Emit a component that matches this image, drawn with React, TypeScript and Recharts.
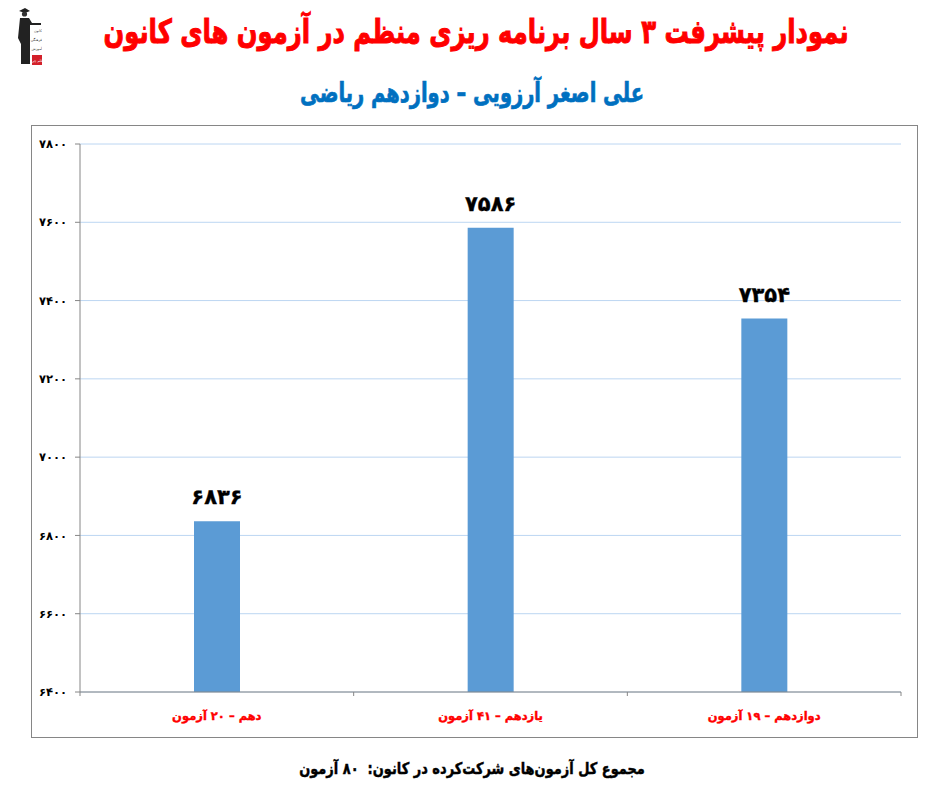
import { BarChart, Bar, CartesianGrid, LabelList, XAxis, YAxis } from 'recharts';

const categories = ['دهم – ۲۰ آزمون', 'یازدهم – ۴۱ آزمون', 'دوازدهم – ۱۹ آزمون'];
const scores = [6836, 7586, 7354];
const yTicks = [6400, 6600, 6800, 7000, 7200, 7400, 7600, 7800];
const logoLines = ['کانون', 'فرهنگی', 'آموزش'];

const titleText = 'نمودار پیشرفت ۳ سال برنامه ریزی منظم در آزمون های کانون';
const subtitleText = 'علی اصغر آرزویی – دوازدهم ریاضی';
const footerText = 'مجموع کل آزمون‌های شرکت‌کرده در کانون:  ۸۰ آزمون';

const FONT = '"DejaVu Sans", sans-serif';
const PLOT_WIDTH = 821;
const data = categories.map((name, i) => ({ name, score: scores[i] }));

const toPersian = (v: number | string) =>
  String(v).replace(/\d/g, (d) => '۰۱۲۳۴۵۶۷۸۹'[Number(d)]);

interface HeadingProps {
  top: number;
  center: number;
  size: number;
  squeeze: number;
  stroke: number;
  color: string;
  children: string;
}

// DejaVu is wider than the reference's Titr-like face, so squeeze it and thicken the strokes.
function Heading({ top, center, size, squeeze, stroke, color, children }: HeadingProps) {
  return (
    <div
      dir="rtl"
      style={{
        position: 'absolute',
        left: center - 600,
        width: 1200,
        top,
        textAlign: 'center',
        fontFamily: FONT,
        fontWeight: 700,
        fontSize: size,
        lineHeight: 1,
        whiteSpace: 'pre',
        color,
        WebkitTextStroke: `${stroke}px ${color}`,
        transform: `scaleX(${squeeze})`,
      }}
    >
      {children}
    </div>
  );
}

function Logo() {
  return (
    <svg width={24} height={58} style={{ position: 'absolute', left: 18, top: 8 }}>
      <path d="M1 3 L7 0 L12 3 L7 5 Z" fill="#222" />
      <circle cx={6.5} cy={6} r={2.6} fill="#333" />
      <path d="M2 10 L11 10 L14 15 L23 15 L23 17 L12 17 L12 56 L3 56 L3 36 L0 30 Z" fill="#222" />
      {logoLines.map((line, i) => (
        <text key={line} x={24} y={24 + i * 9} textAnchor="start" direction="rtl" fontSize={3.5} fontFamily={FONT} fill="#333">
          {line}
        </text>
      ))}
      <rect x={14} y={47} width={10} height={10} fill="#d3202a" />
      <text x={19} y={54} textAnchor="middle" direction="rtl" fontSize={3.5} fontFamily={FONT} fill="#fff">
        قلم چی
      </text>
    </svg>
  );
}

// Excel puts category ticks on the band edges, so each label also draws the edge to its right.
function CategoryTick({ x, y, payload }: any) {
  const step = PLOT_WIDTH / categories.length;
  return (
    <g>
      <line x1={x + step / 2} x2={x + step / 2} y1={y} y2={y + 4} stroke="#868686" />
      {payload.index === 0 && <line x1={x - step / 2} x2={x - step / 2} y1={y} y2={y + 4} stroke="#868686" />}
      <text
        x={x}
        y={y + 28}
        textAnchor="middle"
        fill="#ff0000"
        stroke="#ff0000"
        strokeWidth={0.4}
        fontSize={11.5}
        fontWeight={700}
        fontFamily={FONT}
      >
        {payload.value}
      </text>
    </g>
  );
}

export default function App() {
  return (
    <div style={{ position: 'absolute', left: 0, top: 0, width: 937, height: 797, background: '#fff', overflow: 'hidden' }}>
      <Logo />
      <Heading top={15} center={475.5} size={33} squeeze={0.735} stroke={1} color="#ff0000">{titleText}</Heading>
      <Heading top={79} center={472} size={27} squeeze={0.72} stroke={0.7} color="#0070c0">{subtitleText}</Heading>
      <div style={{ position: 'absolute', left: 31, top: 125, width: 885, height: 611, border: '1px solid #868686' }} />
      <div style={{ position: 'absolute', left: 0, top: 0 }}>
        <BarChart
          width={937}
          height={797}
          data={data}
          margin={{ top: 144, right: 36, bottom: 45, left: 0 }}
          barCategoryGap={0}
        >
          <CartesianGrid horizontal vertical={false} stroke="#bcd6f2" strokeWidth={1} />
          <XAxis
            dataKey="name"
            tickLine={false}
            tickSize={0}
            tickMargin={0}
            height={60}
            interval={0}
            stroke="#868686"
            tick={<CategoryTick />}
          />
          <YAxis
            domain={[6400, 7800]}
            ticks={yTicks}
            width={80}
            tickFormatter={toPersian}
            tick={{ fill: '#000', fontSize: 11.5, fontWeight: 700, fontFamily: FONT }}
            tickSize={5}
            tickMargin={8}
            stroke="#868686"
          />
          <Bar dataKey="score" fill="#5b9bd5" barSize={46} isAnimationActive={false}>
            <LabelList
              dataKey="score"
              position="top"
              offset={17}
              formatter={toPersian}
              fill="#000"
              stroke="#000"
              strokeWidth={0.4}
              fontSize={21}
              fontWeight={700}
              fontFamily={FONT}
            />
          </Bar>
        </BarChart>
      </div>
      <Heading top={761} center={472} size={16} squeeze={0.81} stroke={0.45} color="#000">{footerText}</Heading>
    </div>
  );
}
